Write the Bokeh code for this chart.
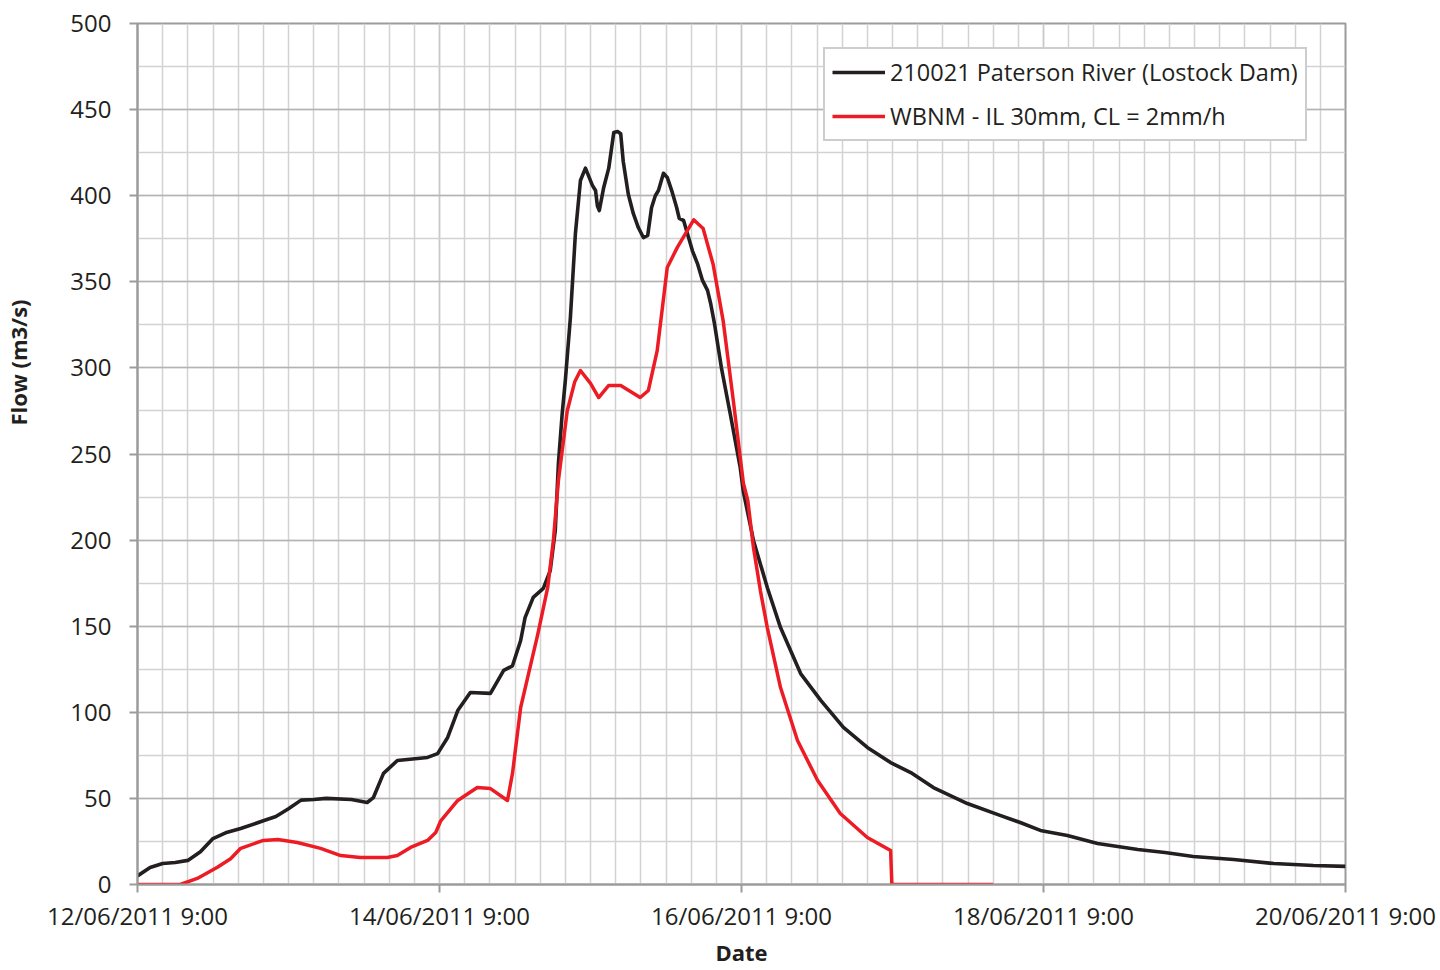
from bokeh.plotting import figure
from bokeh.models import Range1d, FixedTicker, Legend, LegendItem, Title
from bokeh.embed import file_html
from bokeh.resources import INLINE

# hours since 12/06/2011 9:00
obs_hours = [0, 2, 4, 6, 8, 10, 12, 14, 16.4, 20, 22, 24, 26, 28, 30, 34, 36.5, 37.5, 39.1, 41.3,
             46.1, 47.7, 49.3, 50.9, 52.9, 56.1, 58.2, 59.6, 60.9, 61.6, 62.9, 64.5, 65.6, 66.4,
             66.9, 67.5, 68.0, 68.8, 69.6, 70.4, 71.2, 72.3, 72.8, 73.1, 73.4, 74.1, 74.9, 75.7,
             76.3, 76.8, 77.2, 78.0, 78.8, 79.6, 80.4, 81.1, 81.7, 82.3, 82.8, 83.6, 84.2, 85.0,
             85.7, 86.1, 86.8, 87.4, 88.2, 89.0, 89.8, 90.6, 91.1, 91.7, 92.8, 94.2, 95.8, 96.3,
             97.9, 100.1, 102.2, 105.4, 108.6, 112.2, 116.0, 119.7, 122.9, 126.5, 131.9, 137.2,
             140.3, 143.5, 147.8, 152.6, 159.0, 163.3, 167.8, 174.2, 180.6, 186.9, 192]
obs_flow = [5, 9.9, 12.2, 12.8, 14, 19, 26.7, 30, 32.5, 37, 39.5, 44, 49, 49.4, 50, 49.4, 47.6, 50.5,
            64.5, 72, 73.8, 76, 85.4, 101, 111.5, 111, 124.3, 127, 141.7, 155, 166.7, 172, 182.3,
            205.6, 244.5, 273.5, 292.7, 329, 378, 408.8, 416, 406, 403, 394, 391.4, 404.8, 416,
            436.7, 437.3, 436, 420, 401, 389.7, 381.5, 375.7, 377, 393, 400, 403, 413, 410.6, 401.9,
            393, 386.8, 385.6, 378, 368, 360.6, 350.8, 345, 337.4, 325.8, 300.2, 273.5, 242, 228,
            199.8, 172.5, 149.2, 122.5, 106.9, 91.2, 79.6, 70.8, 65, 56.3, 47, 40,
            36, 31.4, 28.5, 23.8, 20.3, 18.6, 16.3, 14.5, 12.2, 11, 10.5]

model_hours = [0, 6.8, 9.5, 12.7, 14.8, 16.4, 20, 22.3, 25.4, 29.1, 32.3, 35.4, 39.7, 41.3, 43.4,
               46.1, 47.4, 48.2, 50.9, 54, 56.1, 58.8, 59.6, 60.9, 62.0, 63.6, 65.2, 66.1, 66.9,
               68.3, 69.5, 70.4, 72.0, 73.3, 74.9, 76.8, 79.9, 81.2, 82.6, 84.2, 85.8, 87.1, 88.4,
               89.9, 91.5, 93.1, 94.7, 96.3, 97.0, 97.9, 99.0, 100.1, 102.2, 104.9, 108.1, 111.7,
               116, 119.7, 119.9, 136]
model_flow = [0, 0, 3.5, 10, 15, 21, 25.6, 26.1, 24.4, 21, 16.8, 15.7, 15.7, 16.8, 21.5,
              25.6, 30.2, 37, 48.8, 56.3, 55.7, 48.8, 64.5, 102.8, 120, 145, 172.5, 199.8, 234.6,
              275, 292, 298.5, 291, 282.8, 289.8, 289.8, 282.8, 286.9, 310, 358.3, 370, 378, 386,
              381, 360, 327, 281, 233, 223, 195.7, 170.7, 149.2, 114.4, 83.6, 60.4, 41.2,
              27.3, 19.7, 0, 0]

tick_hours = [0, 48, 96, 144, 192]
tick_labels = ["12/06/2011 9:00", "14/06/2011 9:00", "16/06/2011 9:00",
               "18/06/2011 9:00", "20/06/2011 9:00"]
flow_ticks = list(range(0, 501, 50))
flow_minor = list(range(0, 501, 25))
hour_minor = list(range(0, 193, 4))

series_names = ["210021 Paterson River (Lostock Dam)", "WBNM - IL 30mm, CL = 2mm/h"]

FONT = "Open Sans"
TXT = "#231f20"
AX = "#9b9b9b"

p = figure(width=1440, height=970, output_backend="svg", toolbar_location=None,
           x_range=Range1d(0, 192), y_range=Range1d(0, 500),
           min_border_left=137, min_border_right=95, min_border_top=23, min_border_bottom=86,
           background_fill_color="white", border_fill_color="white")

p.outline_line_color = AX
p.outline_line_width = 2

p.xaxis.ticker = FixedTicker(ticks=tick_hours, minor_ticks=hour_minor)
p.xaxis.major_label_overrides = {t: l for t, l in zip(tick_hours, tick_labels)}
p.yaxis.ticker = FixedTicker(ticks=flow_ticks, minor_ticks=flow_minor)

for ax in (p.xaxis, p.yaxis):
    ax.axis_line_color = AX
    ax.axis_line_width = 2
    ax.major_tick_line_color = AX
    ax.major_tick_line_width = 2
    ax.major_tick_in = 0
    ax.major_tick_out = 8
    ax.minor_tick_line_color = None
    ax.major_label_text_font = FONT
    ax.major_label_text_font_size = "24px"
    ax.major_label_text_color = TXT

p.xaxis.major_label_standoff = 6
p.yaxis.major_label_standoff = 18
p.xaxis.axis_label = "Date"
p.xaxis.axis_label_text_font = FONT
p.xaxis.axis_label_text_font_size = "22px"
p.xaxis.axis_label_text_font_style = "bold"
p.xaxis.axis_label_text_color = TXT
p.xaxis.axis_label_standoff = 2

# blank spacer label to push the y title outwards
p.yaxis.axis_label = "\u00a0"
p.yaxis.axis_label_text_font = FONT
p.yaxis.axis_label_text_font_size = "22px"
p.yaxis.axis_label_standoff = 2

p.xgrid.grid_line_color = "#c9c9c9"
p.xgrid.grid_line_width = 1.5
p.xgrid.minor_grid_line_color = "#d2d2d2"
p.xgrid.minor_grid_line_width = 1.5
p.ygrid.grid_line_color = "#b3b3b3"
p.ygrid.grid_line_width = 1.5
p.ygrid.minor_grid_line_color = "#d2d2d2"
p.ygrid.minor_grid_line_width = 1.5

r1 = p.line(obs_hours, obs_flow, line_color="#231f20", line_width=3.6, line_join="round")
r2 = p.line(model_hours, model_flow, line_color="#ed1c24", line_width=3.5, line_join="round")

ytitle = Title(text="Flow (m3/s)", align="left", offset=459, standoff=0,
               text_font=FONT, text_font_size="22px", text_font_style="bold",
               text_color=TXT)
p.add_layout(ytitle, "left")

legend = Legend(items=[LegendItem(label=series_names[0], renderers=[r1]),
                       LegendItem(label=series_names[1], renderers=[r2])],
                location=(686, 743))
legend.label_text_font = FONT
legend.label_text_font_size = "23.5px"
legend.label_text_color = TXT
legend.label_height = 28
legend.glyph_height = 28
legend.glyph_width = 53
legend.label_standoff = 5
legend.spacing = 12
legend.padding = 7
legend.margin = 0
legend.border_line_color = AX
legend.border_line_width = 2
legend.background_fill_alpha = 1.0
p.add_layout(legend)

open("out.html", "w").write(file_html(p, INLINE))
